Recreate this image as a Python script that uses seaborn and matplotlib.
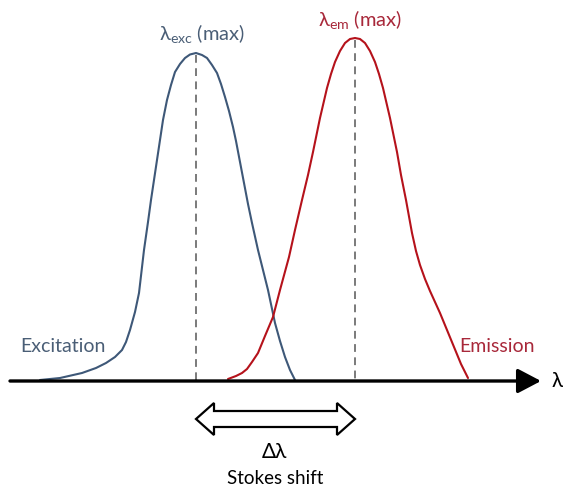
import matplotlib
matplotlib.use("Agg")
import matplotlib.pyplot as plt
import seaborn as sns
import numpy as np
import pandas as pd
from matplotlib.patches import Polygon

# ---- data (in picture units: x to the right, y downward) ----
exc_x = [40, 60, 82, 96, 106, 115, 122, 126, 130, 135, 139, 144, 148, 151, 154, 157, 160, 163, 167, 171, 175, 180, 185,
         190, 196, 202, 207, 212, 217, 221, 225, 229, 233, 236, 240, 244, 248, 252, 258, 263, 268, 275, 280, 285, 290, 295]
exc_y = [380, 378, 373, 368, 363, 357, 350, 342, 330, 312, 293, 250, 222, 200, 180, 160, 140, 120, 100, 85, 72, 64, 58,
         54.5, 53, 55, 58, 65, 73, 84, 97, 111, 127, 141, 162, 183, 204, 223, 250, 270, 290, 323, 341, 357, 370, 380]
em_x = [228, 236, 242, 247, 252, 258, 265, 273, 280, 289, 295, 302, 308, 313, 320, 327, 331, 335, 340, 345, 350, 355,
        360, 365, 370, 375, 379, 383, 390, 397, 401, 406, 412, 416, 420, 425, 430, 435, 440, 447, 454, 461, 465, 468]
em_y = [379, 376, 373, 369, 362, 353, 336, 317, 290, 257, 230, 200, 175, 152, 118, 88, 74, 62, 51, 43, 39, 38,
        39, 43, 51, 62, 74, 88, 118, 152, 175, 200, 233, 251, 265, 279, 291, 302, 313, 330, 347, 364, 372, 378]
exc_peak = 196
em_peak = 355
exc_peak_y = 53
em_peak_y = 38
baseline_y = 381

labels = {"exc": "Excitation", "em": "Emission", "delta": "Δλ", "shift": "Stokes shift"}

exc_color = "#3E5878"
em_color = "#B5121B"
exc_text = "#4A5E76"
em_text = "#A8283A"

sns.set_theme(style="white")
plt.rcParams["font.family"] = ["Lato", "DejaVu Sans"]
plt.rcParams["mathtext.fontset"] = "custom"
plt.rcParams["mathtext.rm"] = "Lato"
plt.rcParams["mathtext.it"] = "Lato:italic"

fig = plt.figure(figsize=(5.63, 4.91), dpi=100)
ax = fig.add_axes([0, 0, 1, 1])
ax.set_xlim(0, 563)
ax.set_ylim(491, 0)
ax.axis("off")

df_exc = pd.DataFrame({"x": exc_x, "y": exc_y})
df_em = pd.DataFrame({"x": em_x, "y": em_y})
sns.lineplot(data=df_exc, x="x", y="y", ax=ax, color=exc_color, lw=1.5, sort=False, estimator=None)
sns.lineplot(data=df_em, x="x", y="y", ax=ax, color=em_color, lw=1.5, sort=False, estimator=None)
for ln in ax.lines:
    ln.set_solid_joinstyle("round")
    ln.set_solid_capstyle("round")

# dashed peak markers
ax.vlines([exc_peak], exc_peak_y + 2, baseline_y, colors="#7A7A7A", linestyles=(0, (4, 2.8)), lw=1.4)
ax.vlines([em_peak], em_peak_y + 2, baseline_y, colors="#7A7A7A", linestyles=(0, (4, 2.8)), lw=1.4)

# baseline axis arrow
ax.annotate("", xy=(541, baseline_y), xytext=(10, baseline_y),
            arrowprops=dict(arrowstyle="-|>,head_length=0.95,head_width=0.5", color="black",
                            lw=2.4, mutation_scale=15, shrinkA=0, shrinkB=0))
ax.text(552, baseline_y, "λ", fontsize=15, color="black", va="center", ha="left")

# labels
ax.text(20, 347, labels["exc"], fontsize=14, color=exc_text, va="center", ha="left")
ax.text(459, 346, labels["em"], fontsize=14, color=em_text, va="center", ha="left")
ax.text(exc_peak + 6, 33, r"λ$_{\mathrm{exc}}$ (max)", fontsize=14.5, color=exc_text, va="center", ha="center")
ax.text(em_peak + 5, 19, r"λ$_{\mathrm{em}}$ (max)", fontsize=14.5, color=em_text, va="center", ha="center")

# hollow double arrow between the peaks
ay = 419
hw, bw, hl = 16, 8, 18
pts = [(exc_peak, ay), (exc_peak + hl, ay - hw), (exc_peak + hl, ay - bw),
       (em_peak - hl, ay - bw), (em_peak - hl, ay - hw), (em_peak, ay),
       (em_peak - hl, ay + hw), (em_peak - hl, ay + bw), (exc_peak + hl, ay + bw),
       (exc_peak + hl, ay + hw)]
ax.add_patch(Polygon(pts, closed=True, facecolor="white", edgecolor="black", lw=1.6))

mid = (exc_peak + em_peak) / 2
ax.text(mid - 1, 452, labels["delta"], fontsize=15, color="black", va="center", ha="center")
ax.text(mid, 479, labels["shift"], fontsize=13.5, color="black", va="center", ha="center")

fig.savefig("out.png", dpi=100)
